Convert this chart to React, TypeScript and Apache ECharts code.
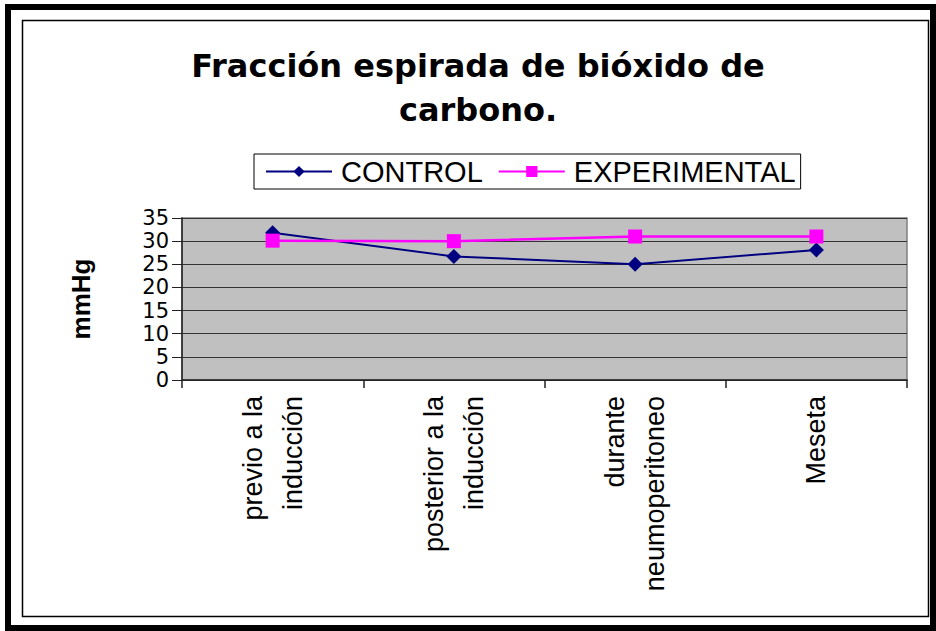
import React, { useEffect, useRef } from "react";
import * as echarts from "echarts";

const titleText = "Fracción espirada de bióxido de\ncarbono.";
const categories = ["previo a la\ninducción", "posterior a la\ninducción", "durante\nneumoperitoneo", "Meseta"];
const controlValues = [31.8, 26.7, 25.0, 28.1];
const experimentalValues = [30.1, 30.0, 31.0, 31.0];
const seriesNames = ["CONTROL", "EXPERIMENTAL"];
const yAxisName = "mmHg";

export default function App() {
  const ref = useRef<HTMLDivElement>(null);
  useEffect(() => {
    const chart = echarts.init(ref.current!, null, { renderer: "svg" });
    const sans = "Liberation Sans, Arial, sans-serif";
    chart.setOption({
      animation: false,
      backgroundColor: "#ffffff",
      title: {
        text: titleText,
        left: 478,
        top: 44,
        padding: 0,
        textAlign: "center",
        textStyle: {
          fontFamily: "DejaVu Sans, sans-serif",
          fontWeight: "bold",
          fontSize: 32,
          lineHeight: 44,
          color: "#000",
        },
      },
      legend: {
        left: 254,
        top: 154,
        padding: [3, 5, 3, 11],
        itemGap: 15,
        itemWidth: 66,
        itemHeight: 14,
        borderColor: "#000",
        borderWidth: 1,
        borderRadius: 0,
        textStyle: { fontFamily: sans, fontSize: 29, color: "#000", padding: [0, 0, 0, 4] },
        data: seriesNames,
      },
      grid: {
        left: 182,
        top: 218,
        right: 29,
        bottom: 251,
        show: true,
        backgroundColor: "#C0C0C0",
        borderColor: "#808080",
        borderWidth: 1.5,
        containLabel: false,
      },
      xAxis: {
        type: "category",
        data: categories,
        boundaryGap: true,
        axisLine: { show: true, lineStyle: { color: "#222", width: 1.5 } },
        axisTick: { show: true, length: 8, alignWithLabel: false, lineStyle: { color: "#222", width: 1.5 } },
        axisLabel: {
          interval: 0,
          rotate: 90,
          margin: 16,
          fontFamily: sans,
          fontSize: 27,
          lineHeight: 40,
          color: "#000",
        },
        splitLine: { show: false },
      },
      yAxis: {
        type: "value",
        min: 0,
        max: 35,
        interval: 5,
        name: yAxisName,
        nameLocation: "middle",
        nameRotate: 90,
        nameGap: 88,
        nameTextStyle: { fontFamily: sans, fontWeight: "bold", fontSize: 26, color: "#000" },
        axisLine: { show: true, lineStyle: { color: "#222", width: 1.5 } },
        axisTick: { show: true, length: 10, lineStyle: { color: "#222", width: 1 } },
        axisLabel: {
          margin: 13,
          showMinLabel: true,
          showMaxLabel: true,
          hideOverlap: false,
          fontFamily: "DejaVu Sans, sans-serif",
          fontSize: 21,
          lineHeight: 21,
          color: "#000",
        },
        splitLine: { show: true, lineStyle: { color: "#333", width: 1 } },
      },
      series: [
        {
          name: seriesNames[0],
          type: "line",
          data: controlValues,
          symbol: "diamond",
          symbolSize: 15,
          color: "#000080",
          lineStyle: { color: "#000080", width: 2 },
          itemStyle: { color: "#000080" },
          z: 2,
        },
        {
          name: seriesNames[1],
          type: "line",
          data: experimentalValues,
          symbol: "rect",
          symbolSize: 14,
          color: "#FF00FF",
          lineStyle: { color: "#FF00FF", width: 2.5 },
          itemStyle: { color: "#FF00FF" },
          z: 3,
        },
      ],
      graphic: [
        { type: "rect", silent: true, shape: { x: 5, y: 4, width: 931, height: 6 }, style: { fill: "#000" } },
        { type: "rect", silent: true, shape: { x: 5, y: 4, width: 6, height: 627 }, style: { fill: "#000" } },
        { type: "rect", silent: true, shape: { x: 930, y: 4, width: 6, height: 627 }, style: { fill: "#000" } },
        { type: "rect", silent: true, shape: { x: 5, y: 625, width: 931, height: 6 }, style: { fill: "#000" } },
        {
          type: "rect",
          silent: true,
          shape: { x: 22.5, y: 20.5, width: 906, height: 596 },
          style: { fill: "none", stroke: "#000", lineWidth: 1.5 },
        },
      ],
    });
    return () => chart.dispose();
  }, []);
  return (
    <div
      ref={ref}
      style={{ position: "fixed", left: 0, top: 0, width: 936, height: 631 }}
    />
  );
}
